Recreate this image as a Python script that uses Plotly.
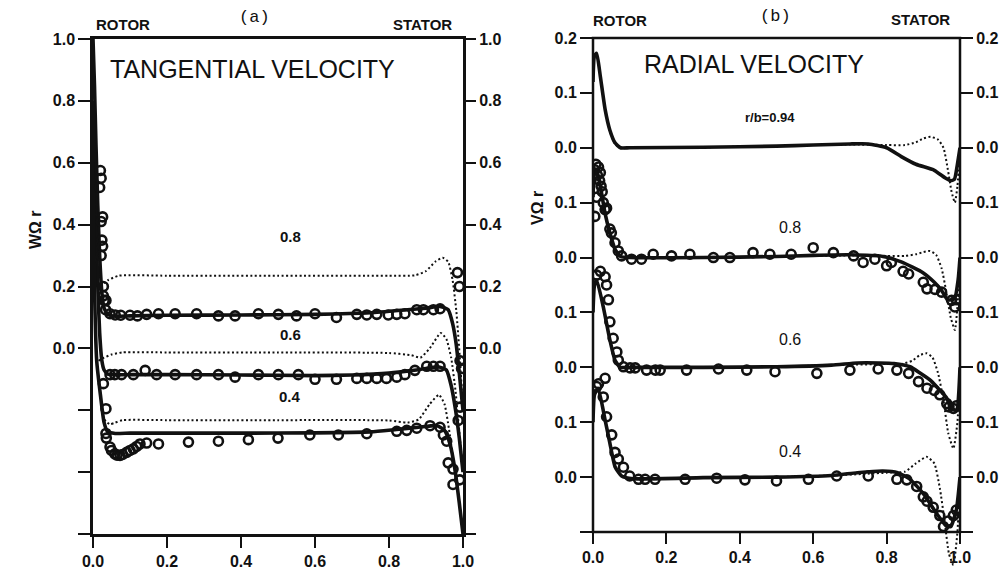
import plotly.graph_objects as go

# ---------------- (a) tangential velocity, W/(Omega r) ----------------
# solid = computation, dotted = alternative computation, circles = measurement
tan80_line_x = [0, 0.004, 0.008, 0.013, 0.018, 0.024, 0.03, 0.04, 0.06, 0.1, 0.2, 0.4, 0.6, 0.75, 0.85, 0.9, 0.94, 0.96, 0.972, 0.982, 0.99, 1.0]
tan80_line_y = [1.0, 0.85, 0.66, 0.46, 0.3, 0.18, 0.13, 0.11, 0.104, 0.105, 0.107, 0.108, 0.11, 0.115, 0.125, 0.13, 0.135, 0.125, 0.08, 0.01, -0.08, -0.2]
tan60_line_x = [0, 0.004, 0.008, 0.013, 0.018, 0.024, 0.03, 0.04, 0.06, 0.1, 0.2, 0.4, 0.6, 0.7, 0.8, 0.86, 0.9, 0.935, 0.955, 0.968, 0.98, 0.99, 1.0]
tan60_line_y = [0.8, 0.6, 0.4, 0.2, 0.05, -0.04, -0.07, -0.083, -0.085, -0.085, -0.085, -0.086, -0.088, -0.086, -0.08, -0.072, -0.065, -0.06, -0.07, -0.12, -0.2, -0.29, -0.4]
tan40_line_x = [0, 0.004, 0.01, 0.02, 0.03, 0.04, 0.06, 0.1, 0.2, 0.4, 0.6, 0.75, 0.82, 0.88, 0.93, 0.95, 0.965, 0.978, 0.99, 1.0]
tan40_line_y = [0.6, 0.2, -0.04, -0.15, -0.24, -0.27, -0.275, -0.274, -0.274, -0.274, -0.273, -0.27, -0.262, -0.255, -0.25, -0.265, -0.31, -0.39, -0.5, -0.6]

tan80_dot_x = [0.02, 0.04, 0.07, 0.2, 0.5, 0.8, 0.87, 0.9, 0.925, 0.945, 0.96, 0.972, 0.982, 0.992, 1.0]
tan80_dot_y = [0.2, 0.22, 0.235, 0.235, 0.235, 0.235, 0.236, 0.25, 0.28, 0.293, 0.28, 0.22, 0.12, -0.04, -0.2]
tan60_dot_x = [0.015, 0.03, 0.05, 0.08, 0.2, 0.5, 0.8, 0.86, 0.885, 0.91, 0.94, 0.955, 0.968, 0.98, 0.99, 1.0]
tan60_dot_y = [-0.04, -0.03, -0.02, -0.013, -0.013, -0.013, -0.015, -0.022, -0.03, 0.0, 0.05, 0.03, -0.03, -0.14, -0.27, -0.4]
tan40_dot_x = [0.03, 0.045, 0.06, 0.08, 0.2, 0.5, 0.8, 0.85, 0.88, 0.91, 0.935, 0.95, 0.962, 0.975, 0.988, 1.0]
tan40_dot_y = [-0.23, -0.245, -0.24, -0.232, -0.232, -0.232, -0.233, -0.24, -0.23, -0.18, -0.15, -0.18, -0.26, -0.37, -0.48, -0.6]

tan80_exp_x = [0.02, 0.022, 0.018, 0.026, 0.022, 0.024, 0.026, 0.022, 0.028, 0.03, 0.034, 0.046, 0.06, 0.075, 0.1, 0.12, 0.145, 0.177, 0.222, 0.28, 0.339, 0.384, 0.447, 0.501, 0.55, 0.6, 0.658, 0.713, 0.74, 0.767, 0.798, 0.821, 0.843, 0.875, 0.893, 0.92, 0.938, 0.985, 0.99]
tan80_exp_y = [0.575, 0.55, 0.52, 0.425, 0.41, 0.35, 0.33, 0.3, 0.2, 0.155, 0.125, 0.112, 0.108, 0.107, 0.107, 0.105, 0.11, 0.112, 0.112, 0.112, 0.105, 0.105, 0.112, 0.11, 0.105, 0.112, 0.1, 0.11, 0.108, 0.11, 0.108, 0.11, 0.112, 0.125, 0.125, 0.125, 0.128, 0.245, 0.2]
tan60_exp_x = [0.028, 0.035, 0.046, 0.059, 0.077, 0.109, 0.141, 0.172, 0.222, 0.28, 0.339, 0.384, 0.447, 0.501, 0.555, 0.6, 0.658, 0.713, 0.74, 0.767, 0.793, 0.821, 0.843, 0.87, 0.902, 0.92, 0.938, 0.992, 0.996, 0.992, 0.987]
tan60_exp_y = [0.17, 0.155, -0.085, -0.085, -0.085, -0.085, -0.071, -0.085, -0.085, -0.085, -0.085, -0.093, -0.085, -0.085, -0.085, -0.1, -0.1, -0.097, -0.097, -0.097, -0.097, -0.093, -0.085, -0.071, -0.058, -0.058, -0.058, -0.04, -0.065, -0.19, -0.233]
tan40_exp_x = [0.028, 0.035, 0.035, 0.036, 0.046, 0.05, 0.059, 0.065, 0.073, 0.08, 0.091, 0.1, 0.109, 0.118, 0.127, 0.145, 0.177, 0.258, 0.339, 0.42, 0.5, 0.586, 0.663, 0.74, 0.821, 0.848, 0.875, 0.911, 0.938, 0.947, 0.956, 0.96, 0.973, 0.973, 0.991]
tan40_exp_y = [-0.114, -0.195, -0.275, -0.29, -0.319, -0.33, -0.341, -0.345, -0.346, -0.343, -0.336, -0.33, -0.325, -0.317, -0.309, -0.306, -0.309, -0.303, -0.3, -0.295, -0.29, -0.28, -0.28, -0.276, -0.268, -0.265, -0.258, -0.25, -0.255, -0.28, -0.3, -0.37, -0.39, -0.44, -0.425]

tan_ticks = [-0.6, -0.4, -0.2, 0.0, 0.2, 0.4, 0.6, 0.8, 1.0]
tan_tick_text = ["", "", "", "0.0", "0.2", "0.4", "0.6", "0.8", "1.0"]

# ---------------- (b) radial velocity, V/(Omega r) ----------------
# profiles are stacked; each entry is the value relative to its own zero line
rad_shift = {"0.94": 0.7, "0.8": 0.5, "0.6": 0.3, "0.4": 0.1}

rad94_line_x = [0, 0.004, 0.01, 0.02, 0.033, 0.046, 0.06, 0.075, 0.1, 0.3, 0.5, 0.6, 0.7, 0.75, 0.8, 0.84, 0.88, 0.93, 0.96, 0.975, 0.985, 0.993, 1.0]
rad94_line_y = [0.12, 0.168, 0.172, 0.13, 0.07, 0.032, 0.009, 0.0, 0.0, 0.001, 0.003, 0.005, 0.007, 0.007, 0.0, -0.016, -0.03, -0.041, -0.055, -0.06, -0.057, -0.03, 0.0]
rad94_dot_x = [0, 0.004, 0.01, 0.02, 0.033, 0.046, 0.06, 0.075, 0.1, 0.3, 0.5, 0.6, 0.7, 0.8, 0.85, 0.88, 0.9, 0.92, 0.94, 0.955, 0.967, 0.977, 0.986, 0.993, 1.0]
rad94_dot_y = [0.12, 0.165, 0.17, 0.13, 0.07, 0.03, 0.007, -0.001, 0.0, 0.001, 0.003, 0.005, 0.006, 0.005, 0.005, 0.01, 0.017, 0.02, 0.015, 0.0, -0.04, -0.08, -0.1, -0.07, 0.0]

rad80_line_x = [0, 0.004, 0.01, 0.02, 0.033, 0.046, 0.06, 0.075, 0.1, 0.3, 0.5, 0.6, 0.7, 0.79, 0.84, 0.9, 0.93, 0.95, 0.966, 0.985, 0.995, 1.0]
rad80_line_y = [0.11, 0.155, 0.16, 0.13, 0.08, 0.045, 0.015, 0.002, 0.0, 0.0, 0.002, 0.004, 0.005, 0.002, -0.008, -0.028, -0.045, -0.06, -0.077, -0.075, -0.04, 0.0]
rad80_dot_x = [0, 0.004, 0.01, 0.02, 0.033, 0.046, 0.06, 0.075, 0.1, 0.3, 0.5, 0.7, 0.8, 0.85, 0.88, 0.9, 0.918, 0.935, 0.95, 0.962, 0.975, 0.986, 0.993, 1.0]
rad80_dot_y = [0.11, 0.155, 0.16, 0.13, 0.08, 0.045, 0.015, 0.002, 0.0, 0.0, 0.002, 0.004, 0.003, 0.003, 0.006, 0.01, 0.012, 0.005, -0.02, -0.06, -0.11, -0.132, -0.09, 0.0]

rad60_line_x = [0, 0.004, 0.01, 0.028, 0.046, 0.06, 0.074, 0.1, 0.3, 0.5, 0.65, 0.72, 0.78, 0.82, 0.864, 0.89, 0.918, 0.94, 0.964, 0.975, 0.99, 1.0]
rad60_line_y = [0.1, 0.15, 0.159, 0.11, 0.05, 0.013, 0.0, 0.0, 0.0, 0.001, 0.004, 0.008, 0.008, 0.007, 0.001, -0.01, -0.023, -0.038, -0.056, -0.075, -0.078, 0.0]
rad60_dot_x = [0, 0.004, 0.01, 0.028, 0.046, 0.06, 0.074, 0.1, 0.3, 0.5, 0.65, 0.8, 0.84, 0.87, 0.89, 0.909, 0.925, 0.94, 0.955, 0.968, 0.982, 0.993, 1.0]
rad60_dot_y = [0.1, 0.15, 0.159, 0.11, 0.05, 0.013, 0.0, 0.0, 0.0, 0.001, 0.004, 0.006, 0.006, 0.012, 0.022, 0.0255, 0.018, -0.01, -0.06, -0.12, -0.148, -0.1, 0.0]

rad40_line_x = [0, 0.004, 0.014, 0.033, 0.046, 0.06, 0.078, 0.109, 0.3, 0.5, 0.65, 0.72, 0.79, 0.83, 0.864, 0.9, 0.936, 0.964, 0.975, 0.99, 1.0]
rad40_line_y = [0.1, 0.15, 0.162, 0.104, 0.062, 0.019, 0.002, -0.003, -0.001, 0.0, 0.003, 0.008, 0.011, 0.008, -0.004, -0.03, -0.066, -0.09, -0.09, -0.06, 0.0]
rad40_dot_x = [0, 0.004, 0.014, 0.033, 0.046, 0.06, 0.078, 0.109, 0.3, 0.5, 0.65, 0.8, 0.85, 0.88, 0.909, 0.93, 0.945, 0.958, 0.97, 0.982, 0.993, 1.0]
rad40_dot_y = [0.1, 0.15, 0.162, 0.104, 0.062, 0.019, 0.002, -0.003, -0.001, 0.0, 0.003, 0.008, 0.01, 0.025, 0.037, 0.025, -0.02, -0.08, -0.14, -0.16, -0.1, 0.0]

rad80_exp_x = [0.005, 0.008, 0.012, 0.015, 0.018, 0.02, 0.022, 0.025, 0.01, 0.005, 0.028, 0.033, 0.037, 0.046, 0.05, 0.06, 0.069, 0.078, 0.105, 0.132, 0.164, 0.214, 0.264, 0.328, 0.373, 0.436, 0.482, 0.54, 0.6, 0.655, 0.71, 0.736, 0.768, 0.8, 0.813, 0.845, 0.86, 0.9, 0.91, 0.932, 0.95, 0.977, 0.99, 0.986]
rad80_exp_y = [0.16, 0.17, 0.15, 0.165, 0.14, 0.155, 0.13, 0.12, 0.11, 0.075, 0.1, 0.0875, 0.09, 0.052, 0.045, 0.027, 0.012, 0.003, -0.003, -0.003, 0.006, 0.003, 0.006, 0.0, 0.0, 0.009, 0.006, 0.006, 0.018, 0.009, 0.003, -0.009, -0.003, -0.015, -0.009, -0.025, -0.03, -0.045, -0.057, -0.058, -0.063, -0.078, -0.077, -0.09]
rad60_exp_x = [0.01, 0.02, 0.033, 0.037, 0.042, 0.046, 0.055, 0.065, 0.069, 0.083, 0.101, 0.115, 0.146, 0.17, 0.183, 0.255, 0.342, 0.419, 0.496, 0.61, 0.7, 0.777, 0.828, 0.86, 0.887, 0.91, 0.93, 0.945, 0.964, 0.97, 0.982, 0.99]
rad60_exp_y = [0.168, 0.175, 0.165, 0.15, 0.123, 0.083, 0.053, 0.028, 0.013, 0.001, -0.001, -0.001, -0.005, -0.005, -0.005, -0.005, -0.003, -0.005, -0.008, -0.011, -0.005, -0.003, -0.005, -0.011, -0.026, -0.038, -0.042, -0.05, -0.066, -0.072, -0.075, -0.07]
rad40_exp_x = [0.01, 0.015, 0.033, 0.028, 0.037, 0.051, 0.06, 0.069, 0.083, 0.1, 0.124, 0.142, 0.169, 0.251, 0.337, 0.414, 0.5, 0.587, 0.664, 0.75, 0.828, 0.855, 0.882, 0.9, 0.91, 0.927, 0.945, 0.955, 0.968, 0.982, 0.99]
rad40_exp_y = [0.165, 0.17, 0.18, 0.146, 0.11, 0.077, 0.045, 0.033, 0.018, 0.002, -0.004, -0.004, -0.004, -0.004, -0.002, -0.005, -0.007, -0.004, 0.002, 0.002, -0.004, -0.005, -0.017, -0.036, -0.044, -0.055, -0.07, -0.09, -0.08, -0.07, -0.06]

rad_ticks = [0.0, 0.1, 0.2, 0.3, 0.4, 0.5, 0.6, 0.7, 0.8, 0.9]
rad_tick_text = ["", "0.0", "0.1", "0.0", "0.1", "0.0", "0.1", "0.0", "0.1", "0.2"]

x_ticks = [0.0, 0.2, 0.4, 0.6, 0.8, 1.0]
x_tick_text = ["0.0", "0.2", "0.4", "0.6", "0.8", "1.0"]

# ---------------- figure geometry (pixels of a 1001 x 572 page) ----------------
W, H = 1001, 572


def px(v):
    return v / W


def py(v):
    return 1 - v / H


A_LEFT, A_RIGHT, A_TOP, A_BOT = 93, 463, 39, 534
B_LEFT, B_RIGHT, B_TOP, B_BOT, B_CLIP = 593, 960, 38, 532, 570
b_low = 0.9 - (B_CLIP - B_TOP) / (B_BOT - B_TOP) * 0.9

FONT = "Liberation Sans, Arial, Helvetica, sans-serif"
BLACK = "#111111"

fig = go.Figure()


def solid(x, y, xa, ya):
    fig.add_trace(go.Scatter(x=x, y=y, mode="lines", xaxis=xa, yaxis=ya,
                             line=dict(color=BLACK, width=3.6, shape="spline", smoothing=0.5),
                             hoverinfo="skip"))


def dotted(x, y, xa, ya):
    fig.add_trace(go.Scatter(x=x, y=y, mode="lines", xaxis=xa, yaxis=ya,
                             line=dict(color=BLACK, width=2, dash="2px,2.5px", shape="spline", smoothing=0.5),
                             hoverinfo="skip"))


def circles(x, y, xa, ya):
    fig.add_trace(go.Scatter(x=x, y=y, mode="markers", xaxis=xa, yaxis=ya,
                             marker=dict(symbol="circle-open", size=9, color=BLACK,
                                         line=dict(width=2.6, color=BLACK)),
                             hoverinfo="skip"))


# panel (a)
for lx, ly in [(tan80_dot_x, tan80_dot_y), (tan60_dot_x, tan60_dot_y), (tan40_dot_x, tan40_dot_y)]:
    dotted(lx, ly, "x", "y")
for lx, ly in [(tan80_line_x, tan80_line_y), (tan60_line_x, tan60_line_y), (tan40_line_x, tan40_line_y)]:
    solid(lx, ly, "x", "y")
for ex, ey in [(tan80_exp_x, tan80_exp_y), (tan60_exp_x, tan60_exp_y), (tan40_exp_x, tan40_exp_y)]:
    circles(ex, ey, "x", "y")


# panel (b): shift each profile onto its own zero line
def shifted(vals, key):
    return [v + rad_shift[key] for v in vals]


for key, lx, ly in [("0.94", rad94_dot_x, rad94_dot_y), ("0.8", rad80_dot_x, rad80_dot_y),
                    ("0.6", rad60_dot_x, rad60_dot_y), ("0.4", rad40_dot_x, rad40_dot_y)]:
    dotted(lx, shifted(ly, key), "x2", "y3")
for key, lx, ly in [("0.94", rad94_line_x, rad94_line_y), ("0.8", rad80_line_x, rad80_line_y),
                    ("0.6", rad60_line_x, rad60_line_y), ("0.4", rad40_line_x, rad40_line_y)]:
    solid(lx, shifted(ly, key), "x2", "y3")
for key, ex, ey in [("0.8", rad80_exp_x, rad80_exp_y), ("0.6", rad60_exp_x, rad60_exp_y),
                    ("0.4", rad40_exp_x, rad40_exp_y)]:
    circles(ex, shifted(ey, key), "x2", "y3")

# empty traces so the right-hand label axes are laid out
fig.add_trace(go.Scatter(x=[None], y=[None], xaxis="x", yaxis="y2", showlegend=False))
fig.add_trace(go.Scatter(x=[None], y=[None], xaxis="x2", yaxis="y4", showlegend=False))

tick_font = dict(family=FONT, size=16, color=BLACK, weight=700)
common_axis = dict(showgrid=False, zeroline=False, ticks="outside", tickcolor=BLACK,
                   tickwidth=2.2, tickfont=tick_font, fixedrange=True, automargin=False)

fig.update_layout(
    width=W, height=H, margin=dict(l=0, r=0, t=0, b=0, autoexpand=False),
    paper_bgcolor="white", plot_bgcolor="white", showlegend=False,
    xaxis=dict(domain=[px(A_LEFT), px(A_RIGHT)], range=[0, 1], anchor="y",
               tickvals=x_ticks, ticktext=x_tick_text, ticklen=11,
               showline=True, linewidth=2.5, linecolor=BLACK, mirror=True, **common_axis),
    yaxis=dict(domain=[py(A_BOT), py(A_TOP)], range=[-0.6, 1.0], anchor="x",
               tickvals=tan_ticks, ticktext=tan_tick_text, ticklen=12,
               showline=True, linewidth=2.5, linecolor=BLACK, mirror=True, **common_axis),
    yaxis2=dict(overlaying="y", side="right", anchor="x", range=[-0.6, 1.0],
                tickvals=tan_ticks, ticktext=tan_tick_text, ticklen=12,
                showline=False, **common_axis),
    xaxis2=dict(domain=[px(B_LEFT), px(B_RIGHT)], range=[0, 1], anchor="free",
                position=py(B_BOT), tickvals=x_ticks, ticktext=x_tick_text, ticklen=11,
                showline=False, **common_axis),
    yaxis3=dict(domain=[py(B_CLIP), py(B_TOP)], range=[b_low, 0.9], anchor="x2",
                tickvals=rad_ticks, ticktext=rad_tick_text, ticklen=12,
                showline=False, **common_axis),
    yaxis4=dict(overlaying="y3", side="right", anchor="x2", range=[b_low, 0.9],
                tickvals=rad_ticks, ticktext=rad_tick_text, ticklen=12,
                showline=False, **common_axis),
)

# frame of panel (b)
fig.add_shape(type="rect", xref="paper", yref="paper",
              x0=px(B_LEFT), x1=px(B_RIGHT), y0=py(B_BOT), y1=py(B_TOP),
              line=dict(color=BLACK, width=2.5))


def label(text, x, y, size, family=FONT, angle=0, weight=400):
    fig.add_annotation(text=text, xref="paper", yref="paper", x=px(x), y=py(y),
                       xanchor="center", yanchor="middle", showarrow=False, textangle=angle,
                       font=dict(family=family, size=size, color=BLACK, weight=weight))


MONO = "Liberation Mono, Courier New, monospace"

# panel (a) text
label("ROTOR", 123, 24, 15, weight=700)
label("(a)", 255, 18, 17, MONO)
label("STATOR", 422, 24, 15, weight=700)
label("TANGENTIAL VELOCITY", 252, 69, 25)
label("WΩ r", 35, 230, 16, angle=-90, weight=700)
label("0.8", 290, 236, 15, weight=700)
label("0.6", 290, 334, 15, weight=700)
label("0.4", 290, 396, 15, weight=700)

# panel (b) text
label("ROTOR", 620, 21, 15, weight=700)
label("(b)", 775, 16, 17, MONO)
label("STATOR", 920, 19, 15, weight=700)
label("RADIAL VELOCITY", 754, 64, 25)
label("VΩ r", 537, 208, 16, angle=-90, weight=700)
label("r/b=0.94", 770, 118, 13, weight=700)
label("0.8", 790, 228, 16)
label("0.6", 790, 339, 16)
label("0.4", 790, 451, 16)

fig.write_html("out.html")
